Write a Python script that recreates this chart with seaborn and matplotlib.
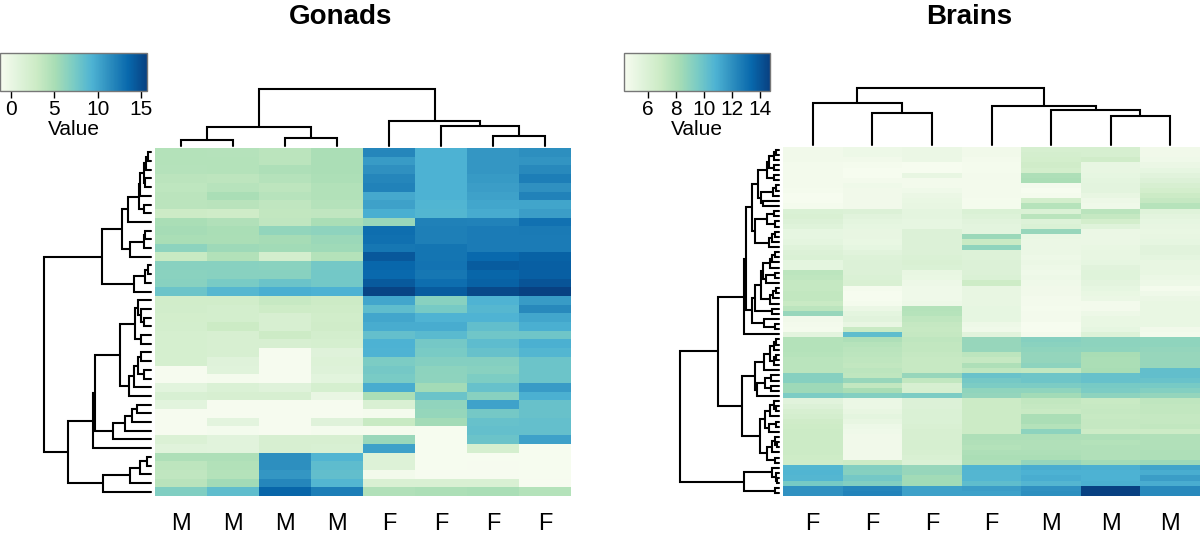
import matplotlib
matplotlib.use("Agg")
import matplotlib.pyplot as plt
import numpy as np
import seaborn as sns

sns.set_theme(style="white")
plt.rcParams['font.family'] = ['Liberation Sans', 'DejaVu Sans']

FIG_W, FIG_H = 1200, 533

# === Data ===
gonad_samples = ["M", "M", "M", "M", "F", "F", "F", "F"]
brain_samples = ["F", "F", "F", "F", "M", "M", "M"]

# one row per gene, top to bottom
gonad_values = [
    [4.4, 4.3, 4.0, 4.9, 11.8, 9.4, 10.9, 11.3],
    [4.4, 4.4, 4.0, 4.9, 10.6, 9.4, 10.9, 11.0],
    [4.3, 4.4, 4.7, 4.9, 11.2, 9.4, 10.9, 11.6],
    [4.0, 3.9, 4.3, 4.8, 11.8, 9.4, 10.7, 12.3],
    [3.8, 4.2, 3.9, 4.5, 12.0, 9.4, 10.5, 11.2],
    [4.0, 5.0, 4.2, 4.5, 9.9, 9.4, 10.3, 12.0],
    [4.0, 4.1, 3.7, 4.3, 10.3, 9.2, 10.0, 10.1],
    [2.9, 2.7, 3.6, 3.7, 9.6, 9.1, 9.8, 10.5],
    [5.0, 4.6, 3.7, 5.0, 5.8, 12.1, 12.0, 13.0],
    [5.2, 5.0, 6.1, 6.3, 13.2, 12.2, 12.4, 12.5],
    [5.0, 4.9, 5.2, 5.7, 13.1, 12.2, 12.4, 12.4],
    [6.4, 5.6, 5.4, 5.5, 12.7, 12.8, 12.4, 12.4],
    [3.2, 4.5, 2.2, 4.4, 14.4, 12.8, 13.5, 13.9],
    [6.6, 6.6, 6.5, 7.5, 13.6, 12.9, 14.2, 14.0],
    [6.5, 6.6, 6.6, 7.6, 13.5, 12.7, 13.7, 14.0],
    [6.6, 7.3, 8.0, 7.6, 14.3, 13.2, 13.9, 14.6],
    [7.9, 9.0, 9.6, 9.4, 15.5, 14.2, 15.2, 15.6],
    [2.5, 2.5, 3.3, 2.9, 10.0, 6.6, 9.3, 10.6],
    [2.4, 2.2, 2.8, 2.7, 8.5, 7.4, 9.0, 11.6],
    [2.3, 2.2, 1.8, 2.5, 10.0, 9.3, 9.3, 10.0],
    [2.2, 3.0, 1.9, 2.6, 9.7, 9.7, 8.4, 9.6],
    [2.0, 1.9, 2.9, 2.2, 8.3, 8.8, 7.7, 7.8],
    [2.0, 1.9, 1.9, 2.0, 9.4, 7.5, 8.6, 9.5],
    [2.0, 1.9, -1.1, 1.0, 9.3, 7.3, 8.2, 9.1],
    [2.0, 1.0, -1.1, 1.2, 7.2, 6.8, 6.8, 7.9],
    [-1.1, 0.9, -1.1, 1.1, 7.5, 6.4, 6.6, 7.9],
    [-1.1, -1.0, -1.1, 0.7, 7.3, 6.3, 7.1, 7.9],
    [0.7, 1.5, 1.0, 2.0, 9.7, 5.3, 8.2, 10.6],
    [1.7, 1.8, 1.9, 0.1, 4.9, 8.0, 6.6, 9.5],
    [0.7, -1.1, -1.1, -1.1, 1.6, 6.2, 10.2, 8.1],
    [-1.1, -1.1, -1.1, -1.1, -1.0, 6.0, 7.5, 8.1],
    [-1.1, 0.6, -1.1, 1.0, 3.2, 5.3, 8.2, 8.3],
    [-1.1, -0.9, -1.1, -0.9, -1.0, -1.2, 8.3, 8.3],
    [1.4, 0.8, 1.9, 1.9, 5.8, -1.2, 8.0, 10.3],
    [0.9, 0.8, 1.9, 1.7, 10.3, -1.2, 2.0, -1.2],
    [4.7, 4.7, 11.3, 9.2, 1.2, -1.2, -1.2, -1.2],
    [3.9, 4.5, 11.3, 8.6, 1.2, -1.2, -1.1, -1.2],
    [3.7, 4.4, 10.9, 8.4, -0.8, -1.1, -1.1, -1.2],
    [4.1, 5.4, 11.8, 9.1, 1.6, 1.6, 1.6, -1.1],
    [7.0, 8.5, 13.7, 12.3, 4.6, 4.8, 5.0, 4.4],
]

# one list per sample, top to bottom
brain_f1 = [4.7, 4.7, 4.7, 4.6, 4.6, 4.6, 4.6, 4.6, 4.5, 4.4, 4.4, 4.5,
            6.0, 6.1, 5.9, 5.7, 5.3, 5.3, 5.4, 5.7, 5.9, 6.0, 5.4, 5.4,
            7.5, 7.4, 7.2, 7.2, 7.3, 7.3, 7.0, 7.5, 8.7, 4.7, 4.6, 4.5, 5.5,
            7.8, 7.8, 7.8, 7.7, 7.6, 7.6, 7.6, 9.2, 9.2, 8.5, 8.5, 9.5,
            5.6, 5.9, 6.2, 6.4, 6.7, 6.8, 6.9, 6.9, 6.9, 6.9, 6.9, 6.8, 6.7,
            10.6, 10.7, 10.6, 9.6, 11.9, 11.9]
brain_f2 = [4.9, 4.9, 4.7, 4.5, 4.4, 4.4, 4.6, 4.8, 4.7, 4.7, 4.7, 4.7,
            5.9, 5.6, 5.4, 5.3, 5.2, 5.2, 5.1, 5.3, 5.6, 5.8, 5.9, 5.9, 5.9, 6.0, 6.1,
            4.5, 4.4, 4.4, 4.5, 5.0, 5.4, 5.6, 5.2, 7.0, 10.3,
            8.0, 7.7, 7.6, 7.5, 7.4, 7.3, 7.5, 7.4, 8.7, 7.3, 8.2, 9.3,
            5.0, 5.0, 5.2, 5.4, 5.2, 4.9, 4.8, 4.7, 4.7, 4.7, 4.7, 4.7, 6.9,
            9.3, 9.2, 9.7, 9.3, 12.3, 12.4]
brain_f3 = [5.0, 5.0, 5.0, 4.4, 4.4, 5.2, 4.6, 4.6, 4.8, 5.0, 5.1, 5.2,
            5.4, 5.4, 5.3, 5.3, 5.9, 5.9, 5.9, 5.9, 5.9, 6.0, 6.1, 6.0,
            5.2, 5.1, 4.9, 4.8, 4.8, 4.8, 4.9, 7.8, 7.7, 7.4, 7.2, 7.1, 7.2,
            7.4, 7.3, 7.3, 7.2, 7.1, 7.1, 7.1, 8.7, 7.3, 6.2, 6.3, 9.5,
            5.9, 5.9, 6.0, 6.0, 6.0, 6.1, 6.2, 6.2, 6.3, 6.3, 6.2, 6.1, 6.0,
            8.7, 8.7, 8.4, 8.4, 11.4, 11.4]
brain_f4 = [4.7, 4.7, 4.6, 4.5, 4.5, 4.6, 4.6, 4.6, 4.6, 4.6, 4.5, 4.5,
            6.0, 5.8, 5.6, 5.5, 5.5, 8.6, 7.0, 8.9, 5.8, 5.8, 5.9, 5.9, 5.9, 6.0, 6.8,
            5.2, 5.2, 5.2, 5.2, 5.3, 5.3, 5.3, 4.9, 4.8, 5.6,
            8.7, 8.7, 8.7, 7.5, 7.2, 8.0, 7.4, 10.0, 9.7, 9.5, 8.9, 8.8,
            6.9, 6.9, 6.9, 6.9, 6.9, 6.9, 6.9, 8.0, 7.9, 7.8, 8.0, 8.1, 8.0,
            10.7, 10.6, 10.6, 10.3, 11.5, 11.4]
brain_m1 = [6.3, 6.4, 6.5, 6.7, 6.5, 8.0, 8.1, 4.6, 4.4, 4.5, 6.5, 7.7,
            6.0, 7.6, 5.8, 6.0, 8.7, 5.1, 5.0, 5.0, 5.0, 4.9, 5.0, 4.9, 4.8, 4.9, 4.8,
            4.7, 4.7, 4.6, 4.6, 4.5, 4.6, 4.6, 4.4, 4.4, 4.6,
            9.2, 9.1, 8.9, 8.8, 8.8, 9.0, 7.3, 9.9, 9.9, 9.5, 8.9, 8.4,
            7.3, 7.2, 7.0, 8.1, 8.1, 7.8, 9.0, 8.0, 7.9, 7.9, 8.0, 8.1, 8.8,
            11.0, 10.8, 11.0, 10.6, 11.9, 12.0]
brain_m2 = [6.3, 6.3, 6.7, 5.2, 5.2, 5.3, 5.4, 5.5, 5.5, 5.2, 4.9, 4.8,
            7.6, 7.2, 6.5, 5.7, 5.0, 5.0, 5.0, 5.1, 5.2, 5.2, 5.3, 5.6, 5.7, 5.7, 5.5,
            5.3, 5.1, 5.0, 4.6, 4.6, 4.9, 5.1, 5.1, 5.3, 5.8,
            9.0, 9.0, 8.9, 8.2, 8.1, 8.1, 8.2, 10.1, 10.1, 9.6, 9.5, 9.0,
            7.0, 7.1, 7.2, 7.1, 7.2, 7.2, 6.9, 8.0, 7.8, 7.9, 7.9, 7.9, 8.4,
            10.9, 10.8, 10.8, 10.9, 14.6, 14.6]
brain_m3 = [4.7, 4.7, 4.8, 5.0, 5.3, 5.6, 5.9, 6.2, 6.5, 6.9, 7.2, 7.7,
            5.7, 5.5, 5.3, 5.2, 5.1, 5.2, 5.3, 5.6, 5.6, 5.4, 5.2, 5.2, 5.2, 5.0, 4.9,
            4.5, 4.8, 5.0, 5.1, 5.1, 5.1, 5.1, 5.1, 4.7, 4.6,
            8.9, 8.9, 8.8, 8.7, 8.7, 8.7, 10.2, 10.2, 10.0, 9.6, 9.3, 8.8,
            7.4, 7.3, 7.3, 7.2, 7.2, 7.3, 6.9, 7.9, 7.9, 7.9, 8.0, 8.0, 8.6,
            11.3, 11.0, 11.5, 11.0, 12.2, 12.2]

# dendrograms: (merge height, child, child), ints are leaves
gonad_col_tree = (57, (19, (6.5, 0, 1), (8, 2, 3)),
                  (25, 4, (20, 5, (10, 6, 7))))
brain_col_tree = (57, (42, 0, (32, 1, 2)),
                  (39.5, 3, (35, 4, (29.5, 5, 6))))

g_t1 = (23.3, (12.3, (10.7, (7.3, (5, (3.3, 0, 1), 2), (5.7, 3, 4)), 5), (6.7, 6, 7)), 8)
g_t2 = (20.7, (6.7, (5.7, 9, 10), 11), 12)
g_t3 = (17.3, (5.7, (3.5, 13, 14), 15), 16)
g_s1 = (15.7, (13.3, 17, (9.7, 18, (6.7, 19, 20))), (9.7, 21, 22))
g_s2 = (21.7, (17.3, (13.3, (9.7, 23, 24), (6.7, 25, 26)), 27), 28)
g_s3 = (37.7, (26.3, (19, (14, 29, 30), 31), 32), 33)
g_s4 = (47.7, (20.7, (11.3, (4, 35, 36), 37), 38), 39)
gonad_row_tree = (107.3,
                  (49.3, (29, g_t1, g_t2), g_t3),
                  (82.7, (58.3, (56.3, (31.3, g_s1, g_s2), g_s3), 34), g_s4))

b_a = (10, (5, (3, 0, 1), 2), (5, 3, 4))
b_b = (12, b_a, (5, 5, 6))
b_c = (6, (3, 7, 8), 9)
b_t1 = (20.7, b_b, (18, b_c, (16.3, 10, 11)))
b_t2 = (24, (12, (5, 12, 13), (4, 14, 15)), (10, (7, (4, 16, 17), 18), 19))
b_h1 = (9.3, (7, (4, 20, 21), 22), 23)
b_h2 = (13, (4, 24, 25), 26)
b_h4 = (9.3, (6, (3, 27, 28), 29), 30)
b_v = (24, (18, (16, b_h1, b_h2), b_h4), (7, 31, 32))
b_r = (26.7, b_v, (14.7, 33, (4, 34, 35)))
b_p = (35.3, (32.7, (27.3, b_t1, b_t2), b_r), 36)
b_w1a = (15.3, (9.3, (5, (3, 37, 38), 39), (5, (3, 40, 41), 42)), 43)
b_w1b = (22, (13.7, (7.7, 44, 45), (7.7, 46, 47)), 48)
b_w2a = (14.3, (8.7, (5, 49, (3, 50, 51)), 52), (10.3, (3.5, 53, 54), 55))
b_w2b = (12, (7, (4, 56, (2, 57, 58)), 59), (4, 60, 61))
b_w = (37.3, (23.7, b_w1a, b_w1b), (18.7, b_w2a, b_w2b))
b_x = (34.7, (7, 62, (3.5, 63, (2, 64, 65))), (3.7, 66, 67))
brain_row_tree = (99.3, (61, b_p, b_w), b_x)

gonad_ticks = [0, 5, 10, 15]
brain_ticks = [6, 8, 10, 12, 14]
gonad_range = (-1.27, 15.7)
brain_range = (4.33, 14.68)


def px_axes(fig, left, top, right, bottom):
    return fig.add_axes([left / FIG_W, 1 - bottom / FIG_H,
                         (right - left) / FIG_W, (bottom - top) / FIG_H])


def draw_tree(ax, node, horizontal):
    # returns (leaf position, height) of the node, draws it on the way
    if isinstance(node, int):
        return node + 0.5, 0
    h, a, b = node
    pa, ha = draw_tree(ax, a, horizontal)
    pb, hb = draw_tree(ax, b, horizontal)
    pos = [pa, pa, pb, pb]
    hgt = [ha, h, h, hb]
    if horizontal:
        ax.plot(hgt, pos, color="black", lw=1.5, clip_on=False, solid_joinstyle="miter")
    else:
        ax.plot(pos, hgt, color="black", lw=1.5, clip_on=False, solid_joinstyle="miter")
    return (pa + pb) / 2, h


def panel(fig, values, samples, row_tree, col_tree, ticks, vrange, title, boxes):
    values = np.asarray(values)
    ax = px_axes(fig, *boxes["heat"])
    cax = px_axes(fig, *boxes["cbar"])
    sns.heatmap(values, ax=ax, cmap="GnBu", vmin=vrange[0], vmax=vrange[1],
                cbar_ax=cax, cbar_kws={"orientation": "horizontal", "ticks": ticks},
                xticklabels=samples, yticklabels=False)
    ax.tick_params(axis="x", length=0, labelsize=17, pad=12, labelrotation=0, colors="black")
    ax.set_xlabel("")
    ax.set_ylabel("")

    cax.tick_params(axis="x", length=5, width=1, labelsize=15, pad=1.5,
                    color="black", labelcolor="black", bottom=True)
    cax.set_xlabel("Value", fontsize=15, labelpad=1, color="black")
    cbar = ax.collections[0].colorbar
    cbar.outline.set_edgecolor("#777777")
    cbar.outline.set_linewidth(1)
    cbar.outline.set_visible(True)

    # row dendrogram
    rax = px_axes(fig, *boxes["rows"])
    rax.set_xlim(boxes["rows"][2] - boxes["rows"][0], 0)
    rax.set_ylim(values.shape[0], 0)
    draw_tree(rax, row_tree, True)
    rax.axis("off")

    # column dendrogram
    tax = px_axes(fig, *boxes["cols"])
    tax.set_xlim(0, values.shape[1])
    tax.set_ylim(0, boxes["cols"][3] - boxes["cols"][1])
    draw_tree(tax, col_tree, False)
    tax.axis("off")

    fig.text(boxes["title_x"] / FIG_W, 1 - 17 / FIG_H, title, ha="center", va="center",
             fontsize=20, fontweight="bold", color="black")


fig = plt.figure(figsize=(FIG_W / 100, FIG_H / 100), dpi=100)

panel(fig, gonad_values, gonad_samples, gonad_row_tree, gonad_col_tree,
      gonad_ticks, gonad_range, "Gonads",
      {"heat": (155, 148, 571, 496), "cbar": (0, 53, 147, 91),
       "rows": (40, 148, 151, 496), "cols": (155, 85, 571, 146), "title_x": 341})

brain_values = np.column_stack([brain_f1, brain_f2, brain_f3, brain_f4,
                                brain_m1, brain_m2, brain_m3])
panel(fig, brain_values, brain_samples, brain_row_tree, brain_col_tree,
      brain_ticks, brain_range, "Brains",
      {"heat": (783, 147, 1200, 496), "cbar": (624, 53, 770, 91),
       "rows": (676, 147, 779, 496), "cols": (783, 85, 1200, 145), "title_x": 969})

fig.savefig("out.png", dpi=100)
plt.close(fig)
